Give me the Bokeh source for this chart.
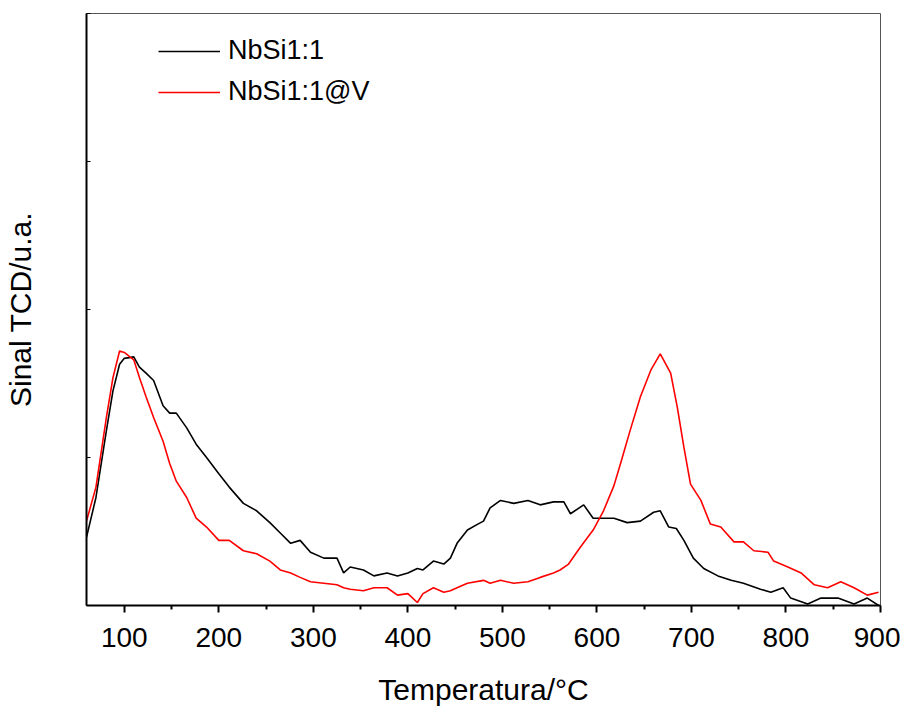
from bokeh.plotting import figure
from bokeh.models import Legend, LegendItem, FixedTicker, CustomJSTickFormatter
from bokeh.embed import file_html
from bokeh.resources import INLINE

# NbSi1:1 (black)
t_black = [60, 70, 81, 88, 95, 100, 110, 116, 123, 131, 141, 148, 155, 166, 176, 187,
           200, 211, 226, 240, 254, 265, 276, 286, 297, 311, 325, 332, 339, 353, 364,
           378, 389, 400, 410, 416, 427, 438, 445, 452, 463, 474, 480, 487, 498, 512,
           527, 540, 554, 565, 572, 586, 596, 607, 618, 632, 646, 660, 667, 676, 684,
           692, 702, 713, 728, 742, 755, 773, 784, 797, 805, 823, 837, 855, 872, 886, 898]
s_black = [0.46, 0.73, 1.18, 1.45, 1.63, 1.67, 1.68, 1.61, 1.57, 1.52, 1.35, 1.30, 1.30,
           1.20, 1.09, 1.00, 0.89, 0.80, 0.69, 0.64, 0.56, 0.49, 0.42, 0.44, 0.36, 0.32,
           0.32, 0.22, 0.26, 0.24, 0.20, 0.22, 0.20, 0.22, 0.25, 0.24, 0.30, 0.28, 0.32,
           0.42, 0.51, 0.55, 0.57, 0.66, 0.71, 0.69, 0.71, 0.68, 0.70, 0.70, 0.62, 0.68,
           0.59, 0.59, 0.59, 0.56, 0.57, 0.63, 0.64, 0.53, 0.52, 0.44, 0.32, 0.25, 0.20,
           0.17, 0.15, 0.11, 0.09, 0.12, 0.05, 0.01, 0.05, 0.05, 0.01, 0.05, 0.00]

# NbSi1:1@V (red)
t_red = [60, 70, 81, 88, 95, 100, 110, 116, 123, 131, 141, 148, 155, 166, 176, 187,
         200, 211, 226, 240, 254, 265, 276, 286, 297, 311, 325, 332, 339, 353, 364,
         378, 389, 400, 410, 416, 427, 438, 445, 452, 463, 480, 487, 498, 512, 527,
         540, 554, 561, 570, 582, 596, 607, 618, 625, 635, 646, 657, 667, 678, 685,
         692, 699, 710, 720, 731, 745, 755, 766, 781, 787, 802, 816, 830, 844, 858,
         872, 886, 898]
s_red = [0.57, 0.80, 1.27, 1.54, 1.72, 1.71, 1.66, 1.54, 1.41, 1.27, 1.11, 0.96, 0.84,
         0.73, 0.59, 0.53, 0.44, 0.44, 0.37, 0.35, 0.30, 0.24, 0.22, 0.19, 0.16, 0.15,
         0.14, 0.12, 0.11, 0.10, 0.12, 0.12, 0.07, 0.08, 0.02, 0.08, 0.12, 0.09, 0.10,
         0.12, 0.15, 0.17, 0.15, 0.17, 0.15, 0.16, 0.19, 0.22, 0.24, 0.28, 0.39, 0.51,
         0.64, 0.81, 0.96, 1.18, 1.41, 1.59, 1.70, 1.57, 1.34, 1.07, 0.82, 0.71, 0.55,
         0.53, 0.43, 0.43, 0.37, 0.36, 0.30, 0.26, 0.22, 0.14, 0.12, 0.16, 0.12, 0.07, 0.09]

x_ticks = [100, 200, 300, 400, 500, 600, 700, 800, 900]
x_minor = [150, 250, 350, 450, 550, 650, 750, 850]
y_ticks = [0, 1, 2, 3, 4]

FONT = "Liberation Sans"

p = figure(width=900, height=708, output_backend="svg", toolbar_location=None,
           x_range=(60, 900), y_range=(0, 4),
           min_border_left=86, min_border_right=20, min_border_top=13, min_border_bottom=103)
p.grid.visible = False
p.background_fill_color = "white"
p.border_fill_color = "white"
p.outline_line_color = "#555555"
p.outline_line_width = 1

r1 = p.line(t_black, s_black, line_color="black", line_width=1.6)
r2 = p.line(t_red, s_red, line_color="#ff0000", line_width=1.6)

xa = p.xaxis[0]
xa.ticker = FixedTicker(ticks=x_ticks, minor_ticks=x_minor)
xa.axis_line_width = 2
xa.major_tick_line_width = 2
xa.minor_tick_line_width = 2
xa.major_tick_out = 7
xa.major_tick_in = 0
xa.minor_tick_out = 4
xa.minor_tick_in = 0
xa.major_label_text_font = FONT
xa.major_label_text_font_size = "28px"
xa.major_label_text_color = "black"
xa.major_label_standoff = 15
xa.axis_label = "Temperatura/°C"
xa.axis_label_text_font = FONT
xa.axis_label_text_font_size = "30px"
xa.axis_label_text_font_style = "normal"
xa.axis_label_text_color = "black"
xa.axis_label_standoff = 23

ya = p.yaxis[0]
ya.ticker = FixedTicker(ticks=y_ticks, minor_ticks=[])
ya.formatter = CustomJSTickFormatter(code="return '';")
ya.axis_line_width = 2
ya.major_tick_line_width = 1
ya.major_tick_in = 4
ya.major_tick_out = 0
ya.major_label_standoff = 0
ya.axis_label = "Sinal TCD/u.a."
ya.axis_label_text_font = FONT
ya.axis_label_text_font_size = "30px"
ya.axis_label_text_font_style = "normal"
ya.axis_label_text_color = "black"
ya.axis_label_standoff = 50

legend = Legend(items=[LegendItem(label="NbSi1:1", renderers=[r1]),
                       LegendItem(label="NbSi1:1@V", renderers=[r2])],
                location=(72, 498), orientation="vertical")
legend.border_line_color = None
legend.background_fill_alpha = 0
legend.padding = 0
legend.margin = 0
legend.spacing = 10
legend.glyph_width = 62
legend.glyph_height = 30
legend.label_height = 30
legend.label_standoff = 8
legend.label_text_font = FONT
legend.label_text_font_size = "27px"
legend.label_text_color = "black"
p.add_layout(legend)

open("out.html", "w").write(file_html(p, INLINE))
